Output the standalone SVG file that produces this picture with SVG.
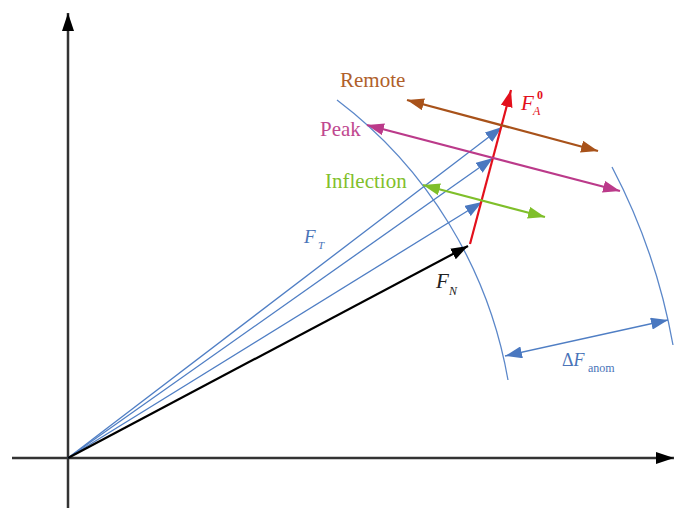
<svg xmlns="http://www.w3.org/2000/svg" width="676" height="510" viewBox="0 0 676 510">
<style>
.axis{stroke:#333;stroke-width:2.5;fill:none}
.vec{stroke:#4f7ec4;stroke-width:1.3;fill:none}
.arc{stroke:#5b87c9;stroke-width:1.3;fill:none}
.lbl{font-family:"Liberation Serif",serif;font-size:21px}
.math{font-family:"Liberation Serif",serif;font-style:italic}
</style>
<defs>
<marker id="mAxis" markerUnits="userSpaceOnUse" markerWidth="20" markerHeight="12" refX="18" refY="6" orient="auto"><path d="M0,0 L18,6 L0,12 z" fill="#000"/></marker>
<marker id="mBlue" markerUnits="userSpaceOnUse" markerWidth="18" markerHeight="12" refX="17" refY="6" orient="auto-start-reverse"><path d="M0,0 L17,6 L0,12 z" fill="#4a78c0"/></marker>
<marker id="mBlack" markerUnits="userSpaceOnUse" markerWidth="18" markerHeight="12" refX="17" refY="6" orient="auto"><path d="M0,0 L17,6 L0,12 z" fill="#000"/></marker>
<marker id="mRed" markerUnits="userSpaceOnUse" markerWidth="18" markerHeight="12" refX="17" refY="6" orient="auto"><path d="M0,0 L17,6 L0,12 z" fill="#e3101c"/></marker>
<marker id="mBrown" markerUnits="userSpaceOnUse" markerWidth="18" markerHeight="12" refX="17" refY="6" orient="auto-start-reverse"><path d="M0,0 L17,6 L0,12 z" fill="#a8521a"/></marker>
<marker id="mMag" markerUnits="userSpaceOnUse" markerWidth="18" markerHeight="12" refX="17" refY="6" orient="auto-start-reverse"><path d="M0,0 L17,6 L0,12 z" fill="#bb3a8a"/></marker>
<marker id="mGreen" markerUnits="userSpaceOnUse" markerWidth="18" markerHeight="12" refX="17" refY="6" orient="auto-start-reverse"><path d="M0,0 L17,6 L0,12 z" fill="#7fbf2a"/></marker>
</defs>
<g id="axes">
<line class="axis" x1="68" y1="508" x2="68" y2="13" marker-end="url(#mAxis)"/>
<line class="axis" x1="12" y1="458" x2="674" y2="458" marker-end="url(#mAxis)"/>
</g>
<g id="arcs">
<path class="arc" d="M337,100 A447.5,447.5 0 0 1 508,380"/>
<path class="arc" d="M612,167 A616,616 0 0 1 673,345"/>
</g>
<g id="connectors">
<line class="vec" x1="68" y1="458" x2="502" y2="127" marker-end="url(#mBlue)"/>
<line class="vec" x1="68" y1="458" x2="493" y2="158" marker-end="url(#mBlue)"/>
<line class="vec" x1="68" y1="458" x2="482" y2="202" marker-end="url(#mBlue)"/>
<line x1="68" y1="458" x2="468" y2="246" stroke="#000" stroke-width="2.2" marker-end="url(#mBlack)"/>
<line x1="470" y1="244" x2="511" y2="90" stroke="#e3101c" stroke-width="2.2" marker-end="url(#mRed)"/>
<line x1="407" y1="100" x2="598" y2="151" stroke="#a8521a" stroke-width="2.2" marker-start="url(#mBrown)" marker-end="url(#mBrown)"/>
<line x1="367" y1="125" x2="620" y2="191" stroke="#bb3a8a" stroke-width="2.2" marker-start="url(#mMag)" marker-end="url(#mMag)"/>
<line x1="423" y1="185" x2="545" y2="217" stroke="#7fbf2a" stroke-width="2.2" marker-start="url(#mGreen)" marker-end="url(#mGreen)"/>
<line x1="505" y1="356" x2="668" y2="320" stroke="#4f7ec4" stroke-width="1.4" marker-start="url(#mBlue)" marker-end="url(#mBlue)"/>
</g>
<g id="labels">
<text class="lbl" x="340" y="87" fill="#b0602a">Remote</text>
<text class="lbl" x="320" y="136" fill="#c0488f">Peak</text>
<text class="lbl" x="325" y="188" fill="#82bf2c">Inflection</text>
<text class="math" x="521" y="110" font-size="21" fill="#e3101c">F</text>
<text x="537" y="99" font-family="Liberation Serif,serif" font-size="12" font-weight="bold" fill="#e3101c">0</text>
<text class="math" x="533" y="115" font-size="12" fill="#e3101c">A</text>
<text class="math" x="304" y="243" font-size="19" fill="#4a74b8">F</text>
<text class="math" x="318" y="249" font-size="11" fill="#4a74b8">T</text>
<text class="math" x="436" y="288" font-size="21" fill="#222">F</text>
<text class="math" x="449" y="295" font-size="12" fill="#222">N</text>
<text x="562" y="366" font-family="Liberation Serif,serif" font-size="18" fill="#4a74b8">Δ<tspan font-style="italic">F</tspan></text>
<text x="588" y="372" font-family="Liberation Serif,serif" font-size="12" fill="#4a74b8">anom</text>
</g>
</svg>
